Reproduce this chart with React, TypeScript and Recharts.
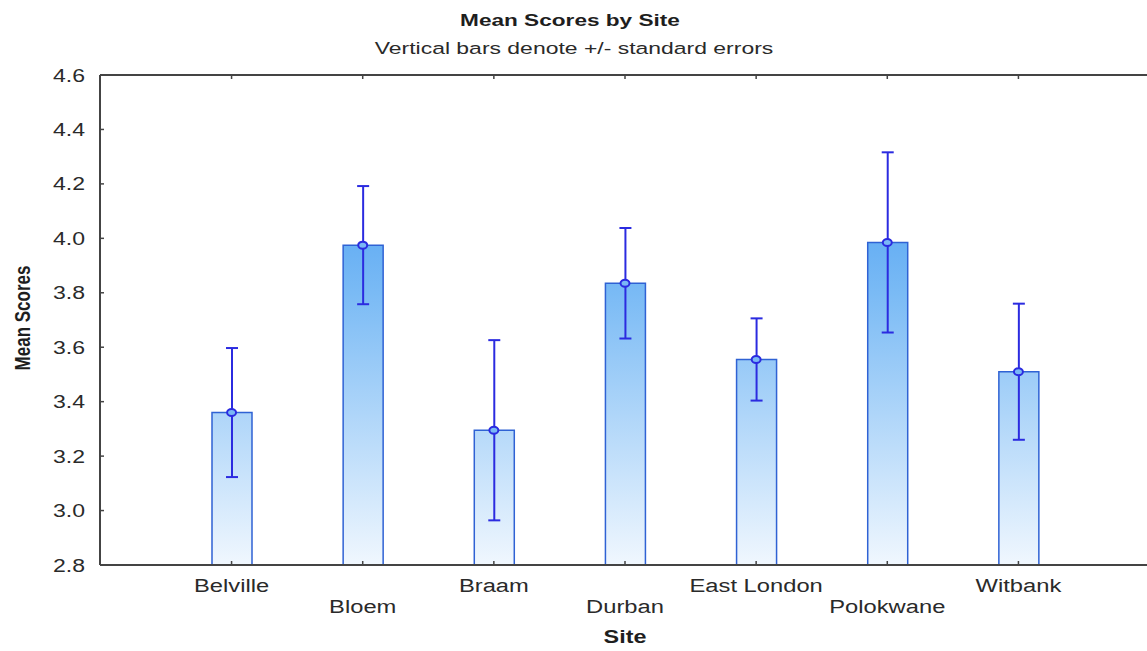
import React from 'react';
import { ComposedChart, Bar, Line, XAxis, YAxis, ErrorBar, Label } from 'recharts';

const sites = ['Belville', 'Bloem', 'Braam', 'Durban', 'East London', 'Polokwane', 'Witbank'];
const means = [3.36, 3.975, 3.295, 3.835, 3.555, 3.985, 3.51];
const stdErrors = [0.237, 0.217, 0.331, 0.203, 0.151, 0.331, 0.25];
const yTicks = [2.8, 3.0, 3.2, 3.4, 3.6, 3.8, 4.0, 4.2, 4.4, 4.6];

const data = sites.map((site, i) => ({ site, mean: means[i], se: stdErrors[i] }));

const FONT = '"Liberation Sans", Arial, sans-serif';
const AXIS = '#444';
const ERR = '#2b2be0';
const TXT = '#2a2a2a';
// the source picture is stretched sideways, so the glyphs are too
const SX = 1.32;

const WideText = ({ x, y, sx = SX, rotate = 0, children, ...rest }: any) => (
  <text
    x={0}
    y={0}
    transform={`translate(${x},${y}) scale(${sx},1)${rotate ? ` rotate(${rotate})` : ''}`}
    fontFamily={FONT}
    fill={TXT}
    {...rest}
  >
    {children}
  </text>
);

const BottomTick = (props: any) => {
  const { x, y, payload, index } = props;
  const low = index % 2 === 1;
  return (
    <g>
      <line x1={x} x2={x} y1={y} y2={y - 4} stroke={AXIS} strokeWidth={1.5} />
      <WideText x={x} y={y + (low ? 48 : 27)} textAnchor="middle" fontSize={18}>
        {payload.value}
      </WideText>
    </g>
  );
};

const TopTick = (props: any) => {
  const { x, y } = props;
  return <line x1={x} x2={x} y1={y} y2={y + 4} stroke={AXIS} strokeWidth={1.5} />;
};

const LeftTick = (props: any) => {
  const { x, y, payload } = props;
  return (
    <g>
      <line x1={x + 14} x2={x + 18} y1={y} y2={y} stroke={AXIS} strokeWidth={1.5} />
      <WideText x={x - 1} y={y + 6.5} textAnchor="end" fontSize={18} sx={1.28}>
        {Number(payload.value).toFixed(1)}
      </WideText>
    </g>
  );
};

const RightTick = (props: any) => {
  const { x, y } = props;
  return <line x1={x - 6} x2={x - 2} y1={y} y2={y} stroke={AXIS} strokeWidth={1.5} />;
};

const MeanDot = (props: any) => {
  const { cx, cy } = props;
  if (cx == null || cy == null) return null;
  return <ellipse cx={cx} cy={cy} rx={4.5} ry={3.5} fill="#7ab8f5" stroke={ERR} strokeWidth={2} />;
};

export default function App() {
  return (
    <div style={{ position: 'fixed', left: 0, top: 0, width: 1147, height: 651, overflow: 'hidden', background: '#fff' }}>
      <svg width={1147} height={70} style={{ position: 'absolute', left: 0, top: 0 }}>
        <WideText x={570} y={26} textAnchor="middle" fontSize={17} fontWeight="bold" sx={1.33} fill="#1e1e1e">
          Mean Scores by Site
        </WideText>
        <WideText x={574} y={54} textAnchor="middle" fontSize={17} sx={1.35}>
          Vertical bars denote +/- standard errors
        </WideText>
      </svg>
      <div style={{ position: 'absolute', left: 0, top: 0 }}>
        <ComposedChart width={1160} height={651} data={data} margin={{ top: 70, right: 8, bottom: 26, left: 40 }}>
          <defs>
            <linearGradient id="barFill" gradientUnits="userSpaceOnUse" x1="0" y1="75" x2="0" y2="565">
              <stop offset="0%" stopColor="#2a8cf0" />
              <stop offset="45%" stopColor="#7bbbf5" />
              <stop offset="100%" stopColor="#f0f7fe" />
            </linearGradient>
          </defs>
          <XAxis
            xAxisId="b"
            dataKey="site"
            orientation="bottom"
            height={60}
            padding={{ left: 66, right: 66 }}
            axisLine={{ stroke: AXIS, strokeWidth: 2 }}
            tickLine={false}
            tickSize={0}
            tickMargin={0}
            tick={<BottomTick />}
            interval={0}
          >
            <Label
              content={(p: any) => {
                const vb = p.viewBox;
                return (
                  <WideText x={vb.x + vb.width / 2} y={vb.y + 78} textAnchor="middle" fontSize={18} fontWeight="bold" sx={1.3} fill="#1e1e1e">
                    Site
                  </WideText>
                );
              }}
            />
          </XAxis>
          <XAxis
            xAxisId="t"
            dataKey="site"
            orientation="top"
            height={5}
            padding={{ left: 66, right: 66 }}
            axisLine={{ stroke: AXIS, strokeWidth: 2 }}
            tickLine={false}
            tickSize={0}
            tickMargin={0}
            tick={<TopTick />}
            interval={0}
          />
          <YAxis
            yAxisId="l"
            type="number"
            domain={[2.8, 4.6]}
            ticks={yTicks}
            width={60}
            axisLine={{ stroke: AXIS, strokeWidth: 2 }}
            tickLine={false}
            tickSize={0}
            tickMargin={14}
            tick={<LeftTick />}
            interval={0}
          >
            <Label
              content={(p: any) => {
                const vb = p.viewBox;
                return (
                  <WideText
                    x={vb.x - 10}
                    y={vb.y + vb.height / 2 - 2}
                    rotate={-90}
                    sx={1.3}
                    textAnchor="middle"
                    fontSize={17}
                    fontWeight="bold"
                    fill="#1e1e1e"
                  >
                    Mean Scores
                  </WideText>
                );
              }}
            />
          </YAxis>
          <YAxis
            yAxisId="r"
            orientation="right"
            type="number"
            domain={[2.8, 4.6]}
            ticks={yTicks}
            width={2}
            axisLine={{ stroke: AXIS, strokeWidth: 2 }}
            tickLine={false}
            tickSize={0}
            tickMargin={0}
            tick={<RightTick />}
            interval={0}
          />
          <Bar
            xAxisId="b"
            yAxisId="l"
            dataKey="mean"
            barSize={40}
            fill="url(#barFill)"
            stroke="#2f62d4"
            strokeWidth={1.5}
            isAnimationActive={false}
          >
            <ErrorBar dataKey="se" width={6} stroke={ERR} strokeWidth={2} direction="y" />
          </Bar>
          <Line
            xAxisId="b"
            yAxisId="l"
            dataKey="mean"
            stroke="none"
            dot={<MeanDot />}
            activeDot={false}
            isAnimationActive={false}
          />
        </ComposedChart>
      </div>
    </div>
  );
}
